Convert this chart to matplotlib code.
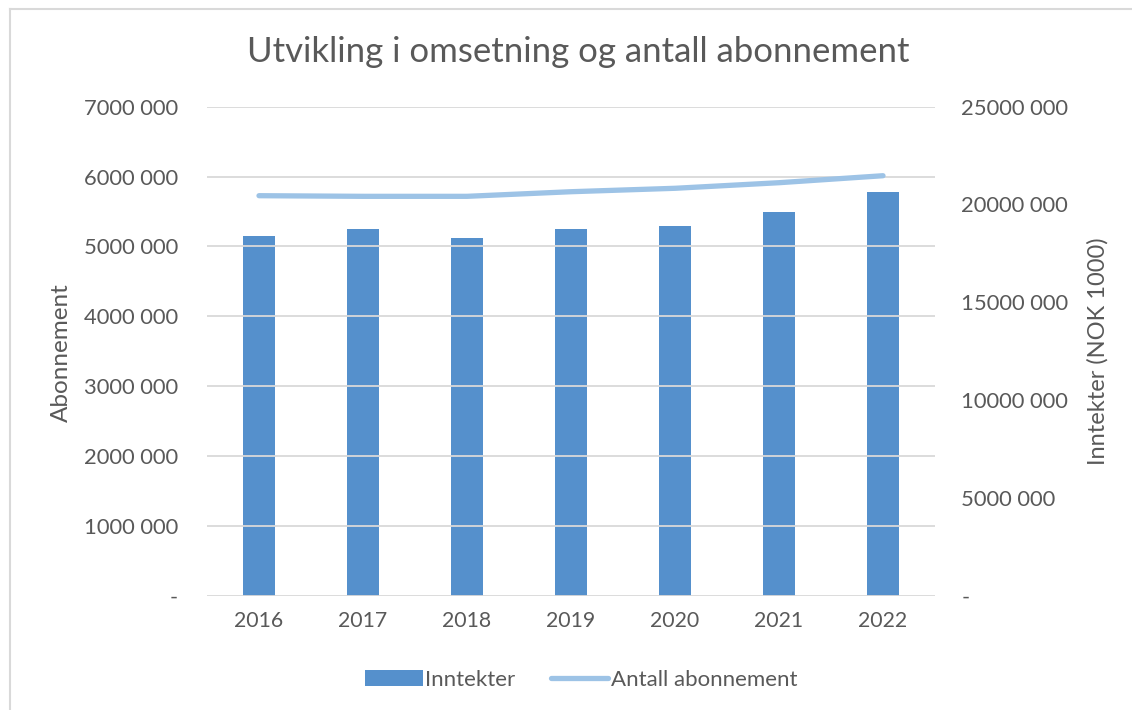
import matplotlib
matplotlib.use("Agg")
import matplotlib.pyplot as plt
from matplotlib.lines import Line2D
from matplotlib.patches import Patch
from matplotlib.ticker import FuncFormatter, MultipleLocator

years = ["2016", "2017", "2018", "2019", "2020", "2021", "2022"]
inntekter = [18370000, 18730000, 18270000, 18750000, 18920000, 19600000, 20640000]
abonnement = [5726000, 5717000, 5717000, 5783000, 5832000, 5912000, 6012000]

title = "Utvikling i omsetning og antall abonnement"
left_label = "Abonnement"
right_label = "Inntekter (NOK 1000)"
legend_labels = ["Inntekter", "Antall abonnement"]

TXT = "#595959"
BAR = "#5590CC"
LINE = "#9DC3E6"
GRID = "#D9D9D9"
FONT = "Lato"

plt.rcParams["font.family"] = [FONT, "DejaVu Sans"]

W, H = 1132, 710
fig = plt.figure(figsize=(W / 100, H / 100), dpi=100)
fig.patch.set_facecolor("white")

L, R, T, B = 207, 935, 106.7, 595.7
ax = fig.add_axes([L / W, 1 - B / H, (R - L) / W, (B - T) / H])
ax2 = ax.twinx()

x = list(range(len(years)))


def fmt(v, pos):
    if abs(v) < 1:
        return "-"
    s = f"{int(round(v)):d}"
    return s[:-3] + " " + s[-3:]


# Bars on the right axis (Inntekter)
ax2.bar(x, inntekter, width=0.31, color=BAR, zorder=2)
ax2.set_ylim(0, 25000000)
ax2.yaxis.set_major_locator(MultipleLocator(5000000))
ax2.yaxis.set_major_formatter(FuncFormatter(fmt))

# Line on the left axis (Abonnement)
ax.set_ylim(0, 7000000)
ax.yaxis.set_major_locator(MultipleLocator(1000000))
ax.yaxis.set_major_formatter(FuncFormatter(fmt))
ax.grid(axis="y", color=GRID, linewidth=1.3, zorder=0)
ax.set_axisbelow(True)

ax.set_zorder(ax2.get_zorder() + 1)
ax.patch.set_visible(False)
ax.plot(x, abonnement, color=LINE, linewidth=3.8, solid_capstyle="round", zorder=3)

ax.set_xlim(-0.5, len(years) - 0.5)
ax.set_xticks(x)
ax.set_xticklabels(years)

for a in (ax, ax2):
    for s in a.spines.values():
        s.set_visible(False)
    a.tick_params(length=0, colors=TXT, labelsize=15.8)
ax.tick_params(axis="y", pad=21)
ax2.tick_params(axis="y", pad=19)
ax.tick_params(axis="x", pad=11, labelsize=15.3)

fig.text(61 / W, 1 - 353 / H, left_label, rotation=90, ha="center", va="center",
         color=TXT, fontsize=17.5)
fig.text(1098 / W, 1 - 351 / H, right_label, rotation=90, ha="center", va="center",
         color=TXT, fontsize=17)
fig.text(578 / W, 1 - 52 / H, title, ha="center", va="center", color=TXT, fontsize=25)

handles = [Patch(facecolor=BAR, edgecolor="none"),
           Line2D([0], [0], color=LINE, linewidth=3.8, solid_capstyle="round")]
fig.legend(handles, legend_labels, loc="center", bbox_to_anchor=(581 / W, 1 - 680 / H),
           ncol=2, frameon=False, fontsize=16, labelcolor=TXT, handlelength=2.6,
           handletextpad=0.1, columnspacing=1.6)

# chart border (top and left visible)
fig.add_artist(Line2D([10 / W, 1], [1 - 9 / H, 1 - 9 / H], color=GRID, linewidth=1.5,
                      transform=fig.transFigure))
fig.add_artist(Line2D([10 / W, 10 / W], [0, 1 - 9 / H], color=GRID, linewidth=1.5,
                      transform=fig.transFigure))

fig.savefig("out.png", dpi=100, facecolor="white")
